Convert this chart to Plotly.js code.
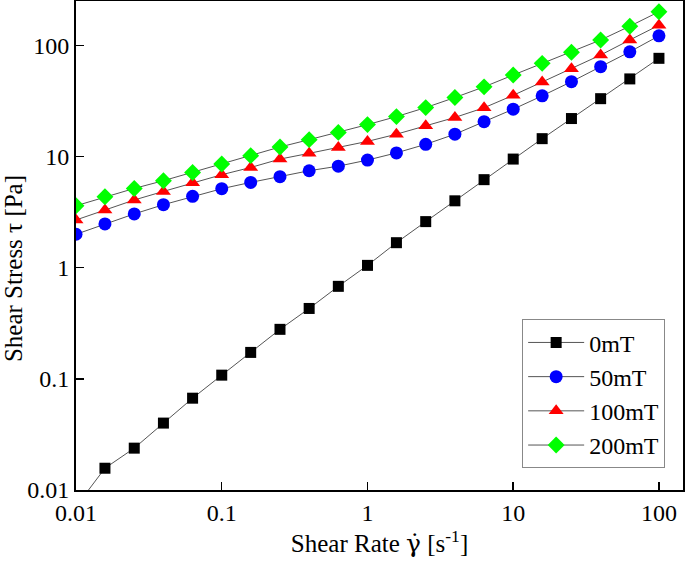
<!DOCTYPE html>
<html>
<head>
<meta charset="utf-8">
<script src="https://cdn.plot.ly/plotly-3.0.1.min.js"></script>
<style>html,body{margin:0;padding:0;background:#fff;}#chart{width:685px;height:562px;}</style>
</head>
<body>
<div id="chart"></div>
<script>
// Shear rate (s^-1)
const shearRate = [0.01, 0.0158, 0.0251, 0.0398, 0.0631, 0.1, 0.158, 0.251, 0.398, 0.631, 1, 1.58, 2.51, 3.98, 6.31, 10, 15.8, 25.1, 39.8, 63.1, 100];
// Shear stress (Pa) for each magnetic field
const tau0mT   = [0.0071, 0.0157, 0.0238, 0.040, 0.067, 0.108, 0.173, 0.279, 0.43, 0.68, 1.05, 1.68, 2.6, 4.0, 6.2, 9.5, 14.5, 22, 33.2, 50, 76.6];
const tau50mT  = [2.0, 2.48, 3.05, 3.69, 4.39, 5.14, 5.86, 6.6, 7.46, 8.2, 9.3, 10.8, 12.9, 15.9, 20.6, 26.7, 35.2, 47.2, 64.4, 87.7, 122];
const tau100mT = [2.69, 3.31, 4.07, 4.86, 5.82, 6.87, 7.98, 9.5, 10.7, 12.1, 13.7, 15.9, 18.9, 22.5, 27.5, 35.6, 46.9, 61.8, 82, 112, 152];
const tau200mT = [3.61, 4.35, 5.17, 6.07, 7.2, 8.57, 10.2, 12.2, 14.2, 16.5, 19.4, 22.9, 27.6, 34, 42.4, 54.2, 69, 87, 112, 149, 201];
const seriesNames = ['0mT', '50mT', '100mT', '200mT'];
const tickVals = [0.01, 0.1, 1, 10, 100];
const tickText = ['0.01', '0.1', '1', '10', '100'];

const FONT = 'Liberation Serif';
const styles = [
  {symbol: 'square', color: '#000000', size: 11},
  {symbol: 'circle', color: '#0000ff', size: 13},
  {symbol: 'triangle-up', color: '#ff0000', size: 13},
  {symbol: 'diamond', color: '#00ff00', size: 13}
];
const ys = [tau0mT, tau50mT, tau100mT, tau200mT];
const traces = ys.map((y, i) => ({
  x: shearRate, y: y, name: seriesNames[i], type: 'scatter', mode: 'lines+markers',
  line: {color: '#555555', width: 1},
  marker: {symbol: styles[i].symbol, color: styles[i].color, size: styles[i].size, line: {width: 0}}
}));

const axisCommon = {
  type: 'log', showgrid: false, zeroline: false, showline: true, linecolor: '#000', linewidth: 2,
  mirror: true, ticks: 'inside', ticklen: 8, tickwidth: 1.5, tickcolor: '#000',
  tickvals: tickVals, ticktext: tickText, tickfont: {family: FONT, size: 24, color: '#000'}
};

const layout = {
  width: 685, height: 562,
  margin: {l: 76, r: 2, t: 1, b: 72},
  paper_bgcolor: '#fff', plot_bgcolor: '#fff',
  font: {family: FONT, color: '#000'},
  xaxis: Object.assign({}, axisCommon, {
    range: [-2, 2.165],
    title: {text: 'Shear Rate <span style="font-family:DejaVu Serif">γ̇</span> [s<sup>-1</sup>]', font: {family: FONT, size: 25, color: '#000'}, standoff: 6}
  }),
  yaxis: Object.assign({}, axisCommon, {
    range: [-2, 2.4]
  }),
  annotations: [{
    text: 'Shear Stress τ [Pa]', textangle: -90, showarrow: false,
    xref: 'paper', yref: 'paper', x: -0.102, y: 0.452, xanchor: 'center', yanchor: 'middle',
    font: {family: FONT, size: 25, color: '#000'}
  }],
  showlegend: true,
  legend: {
    x: 0.735, y: 0.349, xanchor: 'left', yanchor: 'top',
    bgcolor: '#fff', bordercolor: '#888', borderwidth: 1,
    font: {family: FONT, size: 24, color: '#000'},
    itemwidth: 56, tracegroupgap: 0
  }
};

Plotly.newPlot('chart', traces, layout, {displayModeBar: false, staticPlot: true});
</script>
</body>
</html>
